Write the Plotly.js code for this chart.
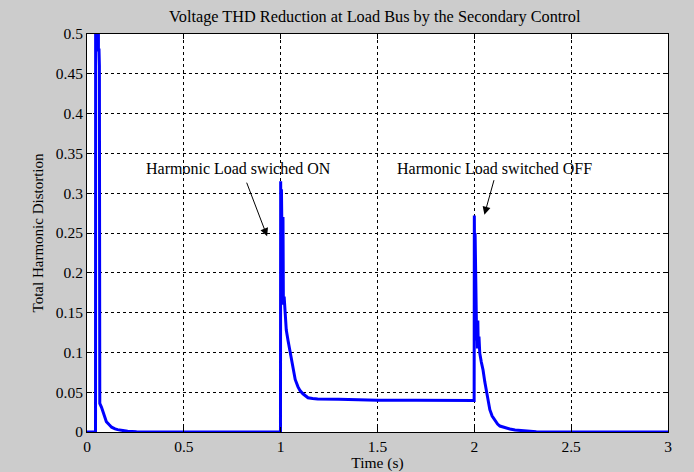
<!DOCTYPE html>
<html><head><meta charset="utf-8">
<script src="https://cdn.plot.ly/plotly-3.0.1.min.js"></script>
<style>body{margin:0;background:#cccccc}</style>
</head><body><div id="chart" style="width:694px;height:472px"></div>
<script>
// Time (s) and THD values
const timeS = [0, 0.044, 0.045, 0.058, 0.059, 0.062, 0.064, 0.066, 0.075, 0.08, 0.09, 0.10, 0.115, 0.127, 0.145, 0.158, 0.185, 0.21, 0.256, 0.4, 0.6, 0.8, 0.999,
  1.0, 1.002, 1.004, 1.006, 1.008, 1.010, 1.012, 1.014, 1.018, 1.022, 1.029, 1.038, 1.047, 1.055, 1.064, 1.075, 1.089, 1.1, 1.115, 1.128, 1.141, 1.165, 1.191, 1.3, 1.382, 1.5, 1.7, 1.9, 1.999,
  2.0, 2.002, 2.004, 2.006, 2.008, 2.010, 2.012, 2.014, 2.016, 2.018, 2.020, 2.024, 2.028, 2.036, 2.045, 2.054, 2.063, 2.07, 2.08, 2.092, 2.106, 2.12, 2.132, 2.16, 2.184, 2.21, 2.235, 2.28, 2.32, 2.6, 3.0];
const thd = [0, 0, 0.9, 0.9, 0.48, 0.48, 0.46, 0.036, 0.031, 0.027, 0.020, 0.013, 0.009, 0.006, 0.004, 0.003, 0.002, 0.001, 0.0003, 0, 0, 0, 0,
  0.315, 0.22, 0.305, 0.19, 0.29, 0.175, 0.27, 0.16, 0.17, 0.15, 0.128, 0.115, 0.103, 0.09, 0.078, 0.066, 0.057, 0.052, 0.048, 0.045, 0.043, 0.042, 0.0415, 0.041, 0.0405, 0.040, 0.0398, 0.0395, 0.0395,
  0.272, 0.19, 0.25, 0.215, 0.14, 0.2, 0.115, 0.14, 0.105, 0.14, 0.11, 0.12, 0.099, 0.088, 0.078, 0.063, 0.049, 0.04, 0.028, 0.02, 0.015, 0.01, 0.0075, 0.005, 0.0037, 0.0025, 0.002, 0.001, 0.0003, 0, 0];

const xTicks = [0, 0.5, 1, 1.5, 2, 2.5, 3];
const yTicks = [0, 0.05, 0.1, 0.15, 0.2, 0.25, 0.3, 0.35, 0.4, 0.45, 0.5];

const fam = '"Liberation Serif", "Times New Roman", serif';
const f = s => ({family: fam, color: '#000', size: s});

const trace = {x: timeS, y: thd, type: 'scatter', mode: 'lines',
  line: {color: '#0000ff', width: 3}, hoverinfo: 'skip'};

const axisCommon = {showline: true, linecolor: '#000', linewidth: 1, mirror: 'ticks',
  ticks: 'inside', ticklen: 5, tickcolor: '#000', showgrid: true, gridcolor: '#000',
  griddash: '3px,3px', gridwidth: 1, zeroline: false, tickfont: f(15.5)};

const layout = {
  width: 694, height: 472,
  paper_bgcolor: '#cccccc', plot_bgcolor: '#ffffff',
  margin: {l: 87, r: 26, t: 34, b: 40},
  showlegend: false,
  font: f(15),
  title: {text: 'Voltage THD Reduction at Load Bus by the Secondary Control', font: f(16.3), x: 0.54, xanchor: 'center', y: 0.965, yanchor: 'middle'},
  xaxis: Object.assign({}, axisCommon, {range: [0, 3], tickvals: xTicks, ticktext: xTicks.map(String),
    title: {text: 'Time (s)', font: f(15.5), standoff: 3}}),
  yaxis: Object.assign({}, axisCommon, {range: [0, 0.5], tickvals: yTicks, ticktext: yTicks.map(String),
    title: {text: 'Total Harmonic Distortion', font: f(15), standoff: 8}}),
  annotations: [
    {x: 0.78, y: 0.331, xref: 'x', yref: 'y', text: 'Harmonic Load swiched ON', showarrow: false, font: f(16)},
    {x: 2.106, y: 0.331, xref: 'x', yref: 'y', text: 'Harmonic Load switched OFF', showarrow: false, font: f(16)},
    {x: 0.93, y: 0.246, xref: 'x', yref: 'y', text: '', showarrow: true, arrowhead: 2, arrowsize: 1.6, arrowwidth: 1, arrowcolor: '#000', ax: -21, ay: -55, axref: 'pixel', ayref: 'pixel'},
    {x: 2.052, y: 0.273, xref: 'x', yref: 'y', text: '', showarrow: true, arrowhead: 2, arrowsize: 1.6, arrowwidth: 1, arrowcolor: '#000', ax: 10, ay: -36, axref: 'pixel', ayref: 'pixel'}
  ]
};

Plotly.newPlot('chart', [trace], layout, {displayModeBar: false, staticPlot: true});
</script></body></html>
